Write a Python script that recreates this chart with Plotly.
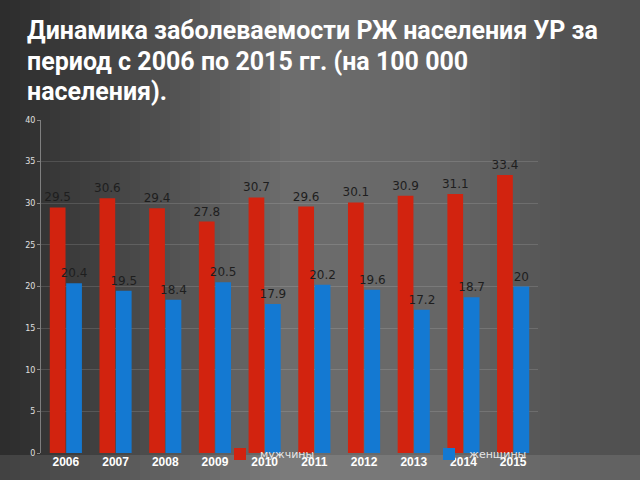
import plotly.graph_objects as go
import numpy as np

years = ["2006", "2007", "2008", "2009", "2010", "2011", "2012", "2013", "2014", "2015"]
men = [29.5, 30.6, 29.4, 27.8, 30.7, 29.6, 30.1, 30.9, 31.1, 33.4]
women = [20.4, 19.5, 18.4, 20.5, 17.9, 20.2, 19.6, 17.2, 18.7, 20]
yticks = [0, 5, 10, 15, 20, 25, 30, 35, 40]
title_lines = ["Динамика заболеваемости РЖ населения УР за",
               "период с 2006 по 2015 гг. (на 100 000",
               "населения)."]

W, H = 640, 480
L, R, T, B = 41, 102, 120, 27
PW, PH = W - L - R, H - T - B


def px_x(x):
    return (x - L) / PW


def px_y(y):
    return (H - B - y) / PH


fig = go.Figure()
fig.add_trace(go.Bar(name="мужчины", x=years, y=men, marker_color="#d2230f",
                     marker_line_width=0,
                     text=[str(v) for v in men], textposition="outside",
                     constraintext="none",
                     textfont=dict(color="#1e1e1e", size=12, family="DejaVu Sans"),
                     cliponaxis=False, legend="legend"))
fig.add_trace(go.Bar(name="женщины", x=years, y=women, marker_color="#1479d2",
                     marker_line_width=0,
                     text=[str(v) for v in women], textposition="outside",
                     constraintext="none",
                     textfont=dict(color="#1e1e1e", size=12, family="DejaVu Sans"),
                     cliponaxis=False, legend="legend2"))

# background gradient strips
shapes = []
stops_x = [0, 0.2, 0.45, 0.7, 0.88, 1.0]
stops_c = [44, 72, 110, 102, 84, 80]
n = 64
for i in range(n):
    a = i * W / n
    b = (i + 1) * W / n
    c = int(np.interp((a + b) / 2 / W, stops_x, stops_c))
    shapes.append(dict(type="rect", xref="paper", yref="paper", layer="below",
                       x0=px_x(a), x1=px_x(b + 1), y0=px_y(H), y1=px_y(0),
                       fillcolor=f"rgb({c},{c},{c})", line_width=0))
shapes.append(dict(type="rect", xref="paper", yref="paper", layer="below",
                   x0=px_x(0), x1=px_x(W), y0=px_y(H), y1=px_y(455),
                   fillcolor="rgba(255,255,255,0.10)", line_width=0))

annotations = []
for i, line in enumerate(title_lines):
    annotations.append(dict(text=line, xref="paper", yref="paper",
                            x=px_x(25), y=px_y(31 + i * 30.5), xanchor="left", yanchor="middle",
                            showarrow=False,
                            font=dict(family="Roboto", size=25, color="white", weight="bold")))

fig.update_layout(
    width=W, height=H,
    margin=dict(l=L, r=R, t=T, b=B, autoexpand=False),
    paper_bgcolor="#4a4a4a", plot_bgcolor="rgba(0,0,0,0)",
    barmode="group", bargap=0.34, bargroupgap=0.04,
    shapes=shapes, annotations=annotations,
    legend=dict(x=px_x(220), y=px_y(454), xanchor="left", yanchor="middle",
                font=dict(color="#e6e6e6", size=11, family="DejaVu Sans"),
                bgcolor="rgba(0,0,0,0)", itemwidth=30),
    legend2=dict(x=px_x(429), y=px_y(454), xanchor="left", yanchor="middle",
                 font=dict(color="#e6e6e6", size=11, family="DejaVu Sans"),
                 bgcolor="rgba(0,0,0,0)", itemwidth=30),
    showlegend=True,
)
fig.update_xaxes(showgrid=False, showline=False, ticks="",
                 tickfont=dict(color="white", size=12, family="Liberation Sans", weight="bold"))
fig.update_yaxes(range=[0, 40], tickvals=yticks, showgrid=True,
                 gridcolor="rgba(255,255,255,0.13)", gridwidth=1,
                 showline=True, linecolor="rgba(200,200,200,0.5)", ticks="outside",
                 ticklen=3, tickcolor="rgba(200,200,200,0.6)", zeroline=False,
                 tickfont=dict(color="#e0e0e0", size=8, family="DejaVu Sans"))

fig.write_html("out.html")
